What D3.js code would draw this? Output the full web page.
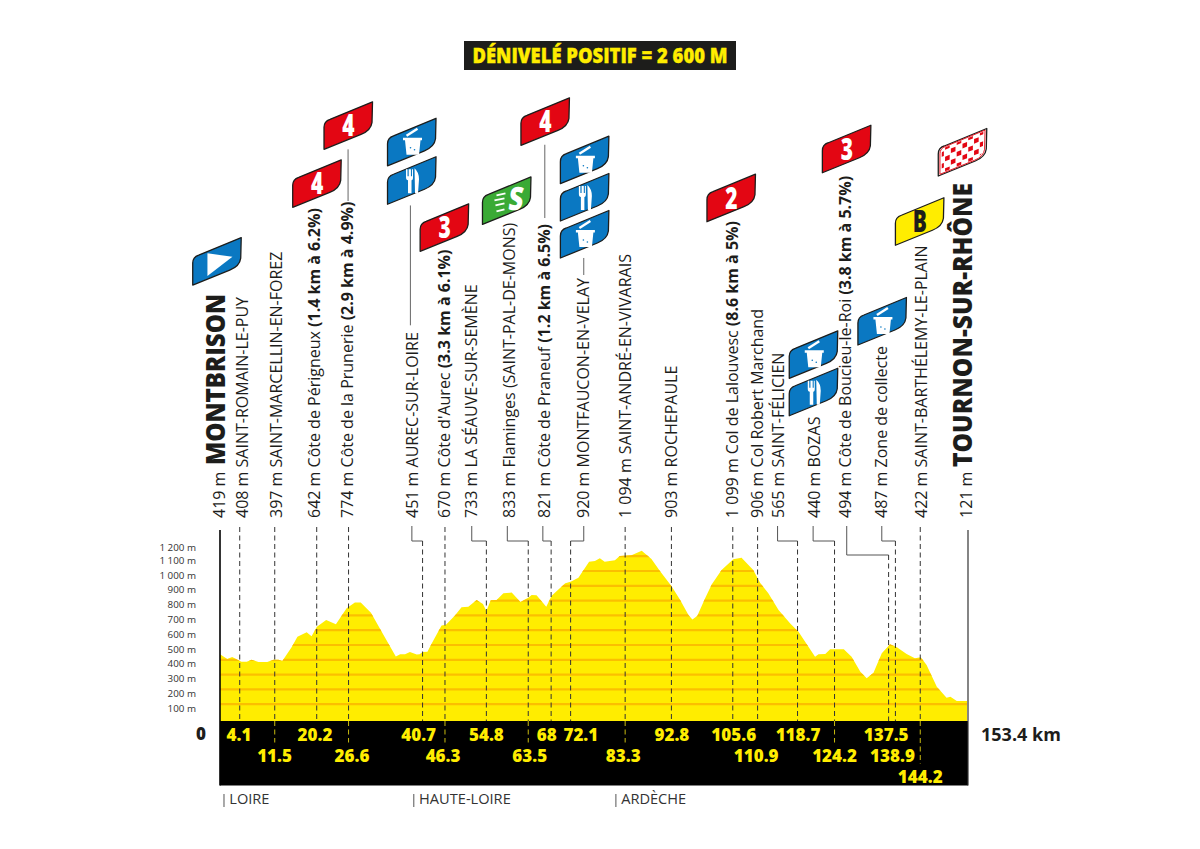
<!DOCTYPE html>
<html><head><meta charset="utf-8">
<script src="https://cdn.jsdelivr.net/npm/d3@7"></script>
<style>html,body{margin:0;background:#fff}svg{display:block}text{font-family:"Open Sans",sans-serif}</style>
</head><body><svg id="c" width="1200" height="849"></svg>
<script>
const titleText = "DÉNIVELÉ POSITIF = 2 600 M";
const totalKm = 153.4;
const profileKm = [0,1.5,2.5,4.4,5.5,6.5,7.9,9.7,11,12,12.8,14.7,15.9,17.8,18.8,19.9,21.8,23.8,26,27.7,28.9,31,33,36.1,37,38,39,40.4,41,41.6,42.6,43.5,45.5,46.4,48.2,49.6,51,52.7,54,54.7,55.6,56.8,58.2,59.9,61.7,63.3,64,65,67,68.1,70.9,72,73.6,75.8,77,78,79,81.1,82.1,84.5,86.6,88.6,90.3,92.7,94.5,96.2,97,98,99.6,101,103,105.4,107.1,109.5,110.9,112.6,114.7,117.1,118.8,122.2,122.9,124.3,125.3,128.1,129.7,131.5,132.8,134.2,135.9,137.6,139,141,142.7,143.9,145.1,147.2,149.2,150,151.3,153.4];
const profileElev = [437,405,419,387,387,401,385,385,401,401,392,484,556,586,559,624,669,640,748,788,788,718,601,423,437,437,453,435,437,453,455,511,631,637,698,755,759,804,777,730,802,804,849,854,791,820,838,836,759,833,917,928,955,1063,1068,1086,1063,1072,1101,1106,1137,1081,1002,899,804,703,673,696,815,910,1007,1079,1090,1007,921,849,736,646,590,421,437,439,471,471,421,320,275,313,444,505,484,439,410,417,365,218,144,151,122,122];
const elevTicks = [100,200,300,400,500,600,700,800,900,1000,1100,1200];
const elevTickLabels = ["100 m","200 m","300 m","400 m","500 m","600 m","700 m","800 m","900 m","1 000 m","1 100 m","1 200 m"];
const kmLabels = ["4.1","11.5","20.2","26.6","40.7","46.3","54.8","63.5","68","72.1","83.3","92.8","105.6","110.9","118.7","124.2","137.5","138.9","144.2"];
const kmLabelAt = [3.9,11.2,19.5,27.1,40.8,45.8,54.7,63.6,67.1,74.1,82.8,92.8,105.5,110.1,118.7,126.2,136.8,138.1,143.8];
const kmRows = [0,1,0,1,0,1,0,1,0,0,1,0,0,1,0,1,0,1,2];
const dropKm = [4.05,11.24,19.86,26.4,41.6,46.2,54.7,63.3,68,72,83.2,92.7,105.3,110.4,118.6,126.2,137.3,138.7,143.8];
const bandDash = [0,1,0,1,0,1,0,1,0,0,1,0,0,0,0,1,0,0,2];
const placeElev = ["408 m","397 m","642 m","774 m","451 m","670 m","733 m","833 m","821 m","920 m","1 094 m","903 m","1 099 m","906 m","565 m","440 m","494 m","487 m","422 m"];
const placeName = ["SAINT-ROMAIN-LE-PUY","SAINT-MARCELLIN-EN-FOREZ","Côte de Périgneux ","Côte de la Prunerie ","AUREC-SUR-LOIRE","Côte d'Aurec ","LA SÉAUVE-SUR-SEMÈNE","Flaminges (SAINT-PAL-DE-MONS)","Côte de Praneuf ","MONTFAUCON-EN-VELAY","SAINT-ANDRÉ-EN-VIVARAIS","ROCHEPAULE","Col de Lalouvesc ","Col Robert Marchand","SAINT-FÉLICIEN","BOZAS","Côte de Boucieu-le-Roi ","Zone de collecte","SAINT-BARTHÉLEMY-LE-PLAIN"];
const placeClimb = ["","","(1.4 km à 6.2%)","(2.9 km à 4.9%)","","(3.3 km à 6.1%)","","","(1.2 km à 6.5%)","","","","(8.6 km à 5%)","","","","(3.8 km à 5.7%)","",""];
const leaderKm = [4.05,11.24,19.86,26.4,39.4,46.2,51.7,59,66.3,74.7,83.2,92.7,105.3,110.4,114.5,121.8,128.7,135.9,143.8];
const placeTextKm = [5.75,12.73,20.53,27.3,40.66,47.2,52.8,60.6,67.8,75.8,84.4,93.8,106.4,111.6,115.9,123.2,129.6,137,145.1];
const regions = ["LOIRE","HAUTE-LOIRE","ARDÈCHE"];
const regionKm = [0.82,39.8,81.3];
const startLabel = ["419 m","MONTBRISON"];
const finishLabel = ["121 m","TOURNON-SUR-RHÔNE"];
const flagKinds = ["start","cat4","cat4","food","fork","cat3","sprint","cat4","food","fork","food","cat2","food","fork","cat3","food","finish","bonus"];
const flagKm = [-5.6,21.36,14.93,34.4,34.4,41.1,53.9,61.8,69.9,69.9,69.9,100,116.9,116.9,123.7,131,147.5,138.7];
const flagElev = [2932,3849,3457,3738,3478,3160,3342,3876,3617,3365,3115,3360,2302,2049,3691,2527,3669,3201];
const stubKm = [26.3,39.1,66.7,74.7];
const stubTop = [3849,3470,3880,3115];
const stubBottom = [3500,2660,3385,3000];

const svg=d3.select("#c");
const x=d3.scaleLinear().domain([0,totalKm]).range([220,967]);
const y=d3.scaleLinear().domain([0,1200]).range([719,541.4]);
const ink="#1d1d1b", yellow="#ffed00", orange="#fbbf00";
const PT=721, PB=785.5, TXT=518;

svg.append("rect").attr("x",464).attr("y",41).attr("width",272).attr("height",29).attr("fill",ink);
svg.append("text").attr("x",472.5).attr("y",63).attr("fill",yellow).attr("stroke",yellow).attr("stroke-width",.35)
  .attr("font-size",21).attr("font-weight",800).attr("textLength",255).attr("lengthAdjust","spacingAndGlyphs").text(titleText);

const area=d3.area().x((d,i)=>x(profileKm[i])).y0(PT).y1(d=>y(d));
svg.append("defs").append("clipPath").attr("id","pf").append("path").attr("d",area(profileElev));
svg.append("path").attr("d",area(profileElev)).attr("fill",yellow);
svg.append("g").attr("clip-path","url(#pf)").selectAll("line").data(elevTicks).join("line")
  .attr("x1",x(0)).attr("x2",x(totalKm)).attr("y1",d=>y(d)).attr("y2",d=>y(d)).attr("stroke",orange).attr("stroke-width",2.2);

svg.append("rect").attr("x",x(0)).attr("y",PT).attr("width",748).attr("height",PB-PT).attr("fill","#000");
svg.append("line").attr("x1",220).attr("x2",220).attr("y1",530).attr("y2",PB).attr("stroke","#000").attr("stroke-width",1.6);
svg.append("line").attr("x1",968).attr("x2",968).attr("y1",530).attr("y2",PB).attr("stroke","#333").attr("stroke-width",1.2);

const yAxis=d3.axisLeft(y).tickValues(elevTicks).tickSize(0).tickPadding(0).tickFormat((d,i)=>elevTickLabels[i]);
const ga=svg.append("g").attr("transform","translate(196,0)").call(yAxis);
ga.select(".domain").remove();
ga.selectAll("text").attr("font-size",9.8).attr("fill","#333").attr("font-family",'"Open Sans",sans-serif')
  .attr("dy",d=>d===1200?"0.9em":"0.72em");

const connY=i=>placeElev[i]==="494 m"?555:541;
dropKm.forEach((k,i)=>{
  const lx=x(leaderKm[i]), dx=x(k), cy=connY(i);
  const bent=Math.abs(lx-dx)>2;
  if(bent) svg.append("path").attr("d",`M${lx},526V${cy}H${dx}`).attr("fill","none").attr("stroke","#555").attr("stroke-width",1);
  svg.append("line").attr("x1",dx).attr("x2",dx).attr("y1",bent?cy:527).attr("y2",PT).attr("stroke","#333").attr("stroke-width",1).attr("stroke-dasharray","5 3.5");
  if(bandDash[i]) svg.append("line").attr("x1",dx).attr("x2",dx).attr("y1",PT).attr("y2",PT+bandDash[i]*21.5)
    .attr("stroke","#c9bb10").attr("stroke-width",1).attr("stroke-dasharray","5 3.5");
});

svg.append("g").selectAll("text").data(kmLabels).join("text")
  .attr("x",(d,i)=>x(kmLabelAt[i])).attr("y",(d,i)=>741+kmRows[i]*21)
  .attr("text-anchor","middle").attr("fill",yellow).attr("font-size",17).attr("font-weight",800).text(d=>d);
svg.append("text").attr("x",201).attr("y",740).attr("text-anchor","middle").attr("fill",ink).attr("font-size",17).attr("font-weight",800).text("0");
svg.append("text").attr("x",981).attr("y",741).attr("fill",ink).attr("font-size",18).attr("font-weight",700).text(totalKm+" km");

regions.forEach((r,i)=>{
  const rx=x(regionKm[i]);
  svg.append("line").attr("x1",rx).attr("x2",rx).attr("y1",794).attr("y2",807).attr("stroke","#555").attr("stroke-width",1);
  svg.append("text").attr("x",rx+5.3).attr("y",803.5).attr("fill","#333").attr("font-size",14.6).text(r);
});

function vlabel(px,size){return svg.append("text").attr("transform",`translate(${px},${TXT}) rotate(-90)`).attr("fill",ink).attr("font-size",size);}
placeElev.forEach((e,i)=>{
  const t=vlabel(x(placeTextKm[i]),16);
  t.append("tspan").text(e+" ");
  t.append("tspan").text(placeName[i]);
  if(placeClimb[i]) t.append("tspan").attr("font-weight",700).text(placeClimb[i]);
});
[[startLabel,225,171,465],[finishLabel,972,284,467]].forEach(([l,px,len,start])=>{
  vlabel(px,16).text(l[0]);
  svg.append("text").attr("transform",`translate(${px},${start}) rotate(-90)`).attr("fill",ink).attr("font-size",26).attr("font-weight",800)
    .attr("textLength",len).attr("lengthAdjust","spacingAndGlyphs").text(l[1]);
});

stubKm.forEach((k,i)=>svg.append("line").attr("x1",x(k)).attr("x2",x(k)).attr("y1",y(stubTop[i])).attr("y2",y(stubBottom[i])).attr("stroke","#666").attr("stroke-width",1));

const FL="M0,0L0,-22Q0,-28 6,-30L48.5,-47.5L48,-27Q47,-19 37,-15Z";
const fill={start:"#0a78c2",cat4:"#e30613",cat3:"#e30613",cat2:"#e30613",food:"#0a78c2",fork:"#0a78c2",sprint:"#3aaa35",finish:"#fff",bonus:yellow};
flagKinds.forEach((kind,i)=>{
  const g=svg.append("g").attr("transform",`translate(${x(flagKm[i])},${y(flagElev[i])})`);
  g.append("path").attr("d",FL).attr("fill",fill[kind]).attr("stroke",ink).attr("stroke-width",1.3).attr("stroke-linejoin","round");
  if(kind.startsWith("cat")||kind==="bonus"){
    g.append("text").attr("transform","translate(24.5,-13) scale(0.7,1)").attr("text-anchor","middle")
      .attr("font-size",30).attr("font-weight",800).attr("fill",kind==="bonus"?ink:"#fff").text(kind==="bonus"?"B":kind.slice(3));
  } else if(kind==="start"){
    g.append("path").attr("d","M14.7,-31.7L39.7,-28.3L14.7,-9Z").attr("fill","#fff");
  } else if(kind==="fork"){
    g.append("path").attr("fill","#fff").attr("d","M18.5,-35V-27Q18.5,-24 20.5,-24V-11H24V-24Q25.5,-24 25.5,-27V-35H24.5V-28H23.4V-35H21.2V-28H20V-35ZM27,-36Q31.5,-32 31.5,-25L30.5,-11H27.5Z");
  } else if(kind==="food"){
    g.append("path").attr("fill","#fff").attr("d","M15.5,-28H34.5V-25.5H33L31.5,-11H19L17.5,-25.5H15.5Z");
    g.append("path").attr("fill","none").attr("stroke","#fff").attr("stroke-width",2.4).attr("d","M19,-30L30,-37");
    g.append("circle").attr("cx",23).attr("cy",-18).attr("r",.8).attr("fill",fill.food);
    g.append("circle").attr("cx",27).attr("cy",-16).attr("r",.8).attr("fill",fill.food);
  } else if(kind==="sprint"){
    g.append("text").attr("transform","translate(32.5,-14) scale(0.8,1) skewX(-8)").attr("text-anchor","middle").attr("font-size",32).attr("font-weight",800).attr("fill","#fff").text("S");
    g.append("path").attr("stroke","#fff").attr("stroke-width",2).attr("d","M14,-29L23,-31M12,-24L22,-26M13,-19L22,-21M14,-13L22,-15");
  } else if(kind==="finish"){
    const clip="fc"+i;
    g.append("clipPath").attr("id",clip).append("path").attr("d",FL).attr("transform","translate(24,-24) scale(.86) translate(-24,24)");
    g.append("path").attr("d",FL).attr("fill","none").attr("stroke","#e30613").attr("stroke-width",1).attr("transform","translate(24,-24) scale(.93) translate(-24,24)");
    const c=g.append("g").attr("clip-path",`url(#${clip})`).append("g").attr("transform","skewY(-22)");
    d3.range(0,9).forEach(a=>d3.range(0,8).forEach(b=>{
      if((a+b)%2===0) c.append("rect").attr("x",a*5.8+1).attr("y",-34+b*5.8).attr("width",4.6).attr("height",4.6).attr("fill","#e30613");
    }));
  }
});
</script></body></html>
